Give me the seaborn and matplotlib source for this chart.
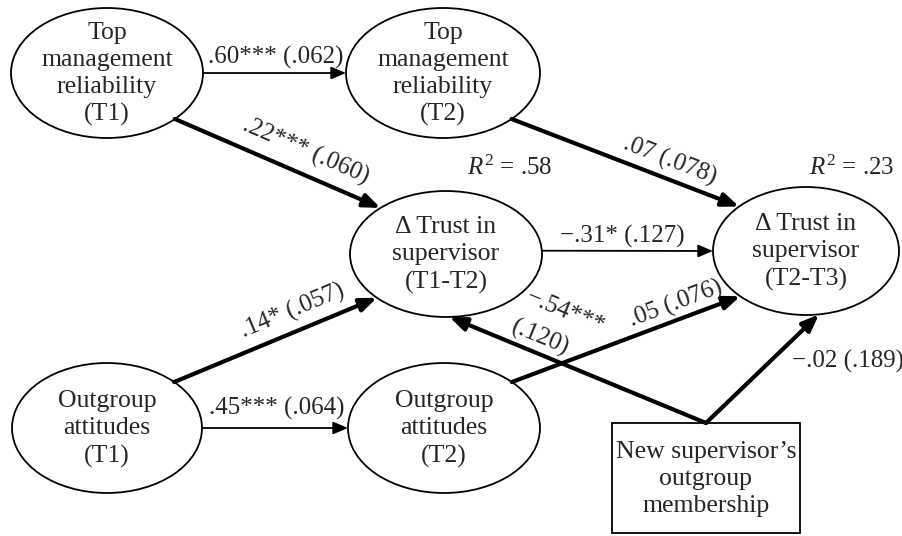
import numpy as np
import matplotlib
matplotlib.use("Agg")
import matplotlib.pyplot as plt
from matplotlib.patches import Ellipse, Rectangle
import seaborn as sns

# %% model content
nodes = ["tmr1", "tmr2", "trust12", "trust23", "out1", "out2", "newsup"]
node_text = ["Top\nmanagement\nreliability\n(T1)",
             "Top\nmanagement\nreliability\n(T2)",
             "\u0394 Trust in\nsupervisor\n(T1-T2)",
             "\u0394 Trust in\nsupervisor\n(T2-T3)",
             "Outgroup\nattitudes\n(T1)",
             "Outgroup\nattitudes\n(T2)",
             "New supervisor\u2019s\noutgroup\nmembership"]

edge_from = ["tmr1", "tmr1", "tmr2", "trust12", "out1", "out1", "out2", "newsup", "newsup"]
edge_to = ["tmr2", "trust12", "trust23", "trust23", "trust12", "out2", "trust23", "trust12", "trust23"]
coef = [".60", ".22", ".07", "\u2212.31", ".14", ".45", ".05", "\u2212.54", "\u2212.02"]
stars = ["***", "***", "", "*", "*", "***", "", "***", ""]
se = [".062", ".060", ".078", ".127", ".057", ".064", ".076", ".120", ".189"]

r2_nodes = ["trust12", "trust23"]
r2_values = [".58", ".23"]

# %% layout (pixel space, y down)
center = {"tmr1": (107, 73), "tmr2": (443, 73), "trust12": (446, 254), "trust23": (806, 251),
          "out1": (107, 428), "out2": (444, 428), "newsup": (706, 478)}
radius = {"tmr1": (96, 65), "tmr2": (97, 65), "trust12": (96, 63), "trust23": (93, 64),
          "out1": (95, 65), "out2": (96, 65)}
box_size = (188, 110)
# (source angle, target angle) on the ellipses
ports = [(0, 180), (45, 227), (45, 224), (-3, 180), (-45, 136), (0, 180), (-45, 135), (None, 88), (None, 82)]
thick = [False, True, True, False, True, False, True, True, True]
label_xy = [(276, 57), (306, 151), (670, 161), (622, 236), (293, 311), (277, 408), (676, 304),
            [(565, 312), (540, 338)], (848, 361)]
label_rot = [False, True, True, False, True, False, True, True, False]
r2_xy = [(510, 168), (852, 168)]

sns.set_theme(style="white")
plt.rcParams["font.family"] = ["Liberation Serif", "DejaVu Serif"]
plt.rcParams["mathtext.fontset"] = "custom"
plt.rcParams["mathtext.rm"] = "Liberation Serif"
plt.rcParams["mathtext.it"] = "Liberation Serif:italic"

fs_node = 18.5
fs_lab = 18
fig = plt.figure(figsize=(9.03, 5.36), dpi=100)
ax = fig.add_axes([0, 0, 1, 1])
ax.set_xlim(0, 903)
ax.set_ylim(536, 0)
ax.axis("off")


def port(name, ang):
    cx, cy = center[name]
    if ang is None:  # top middle of box
        return cx, cy - box_size[1] / 2
    rx, ry = radius[name]
    a = np.radians(ang)
    return cx + rx * np.cos(a), cy + ry * np.sin(a)


# %% nodes
for n, t in zip(nodes, node_text):
    cx, cy = center[n]
    if n in radius:
        rx, ry = radius[n]
        ax.add_patch(Ellipse((cx, cy), 2 * rx, 2 * ry, fc="white", ec="black", lw=1.3, zorder=1))
        ls = 1.3
    else:
        w, h = box_size
        ax.add_patch(Rectangle((cx - w / 2, cy - h / 2), w, h, fc="white", ec="black", lw=1.3, zorder=1))
        ls = 1.3
    ax.text(cx, cy + 1, t, ha="center", va="center", fontsize=fs_node, linespacing=ls, zorder=3)

# %% paths
for i, (s, d) in enumerate(zip(edge_from, edge_to)):
    p0 = port(s, ports[i][0])
    p1 = port(d, ports[i][1])
    lw = 3.0 if thick[i] else 1.3
    hs = "-|>,head_length=0.5,head_width=0.2" if thick[i] else "-|>,head_length=0.45,head_width=0.19"
    ax.annotate("", xy=p1, xytext=p0,
                arrowprops=dict(arrowstyle=hs, lw=lw, color="black", shrinkA=0, shrinkB=0,
                                mutation_scale=20), zorder=2)
    rot = 0
    if label_rot[i]:
        ang = -np.degrees(np.arctan2(p1[1] - p0[1], p1[0] - p0[0]))
        if ang > 90:
            ang -= 180
        if ang < -90:
            ang += 180
        rot = ang
    txt = f"{coef[i]}{stars[i]} ({se[i]})"
    if isinstance(label_xy[i], list):
        parts = [f"{coef[i]}{stars[i]}", f"({se[i]})"]
        for part, xy in zip(parts, label_xy[i]):
            ax.text(*xy, part, ha="center", va="center", rotation=rot, rotation_mode="anchor",
                    fontsize=fs_lab, zorder=4)
    else:
        ax.text(*label_xy[i], txt, ha="center", va="center", rotation=rot, rotation_mode="anchor",
                fontsize=fs_lab, zorder=4)

# %% explained variance
for n, v, xy in zip(r2_nodes, r2_values, r2_xy):
    ax.text(*xy, r"$\mathit{R}^{2}$ = " + v, ha="center", va="center", fontsize=fs_lab)

fig.savefig("out.png", dpi=100)
plt.close()
